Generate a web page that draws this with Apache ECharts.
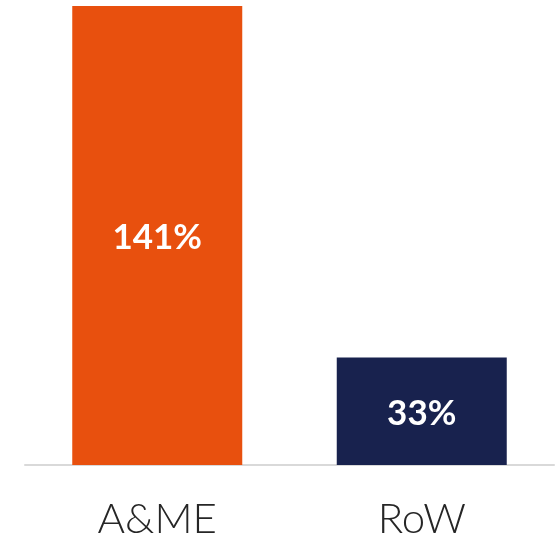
<!DOCTYPE html>
<html>
<head>
<meta charset="utf-8">
<script src="https://cdn.jsdelivr.net/npm/echarts@6/dist/echarts.min.js"></script>
<style>
  html, body { margin: 0; padding: 0; background: #ffffff; }
  #chart { width: 559px; height: 541px; }
</style>
</head>
<body>
<div id="chart"></div>
<script>
// Regions and their growth (%)
const categories = ['A&ME', 'RoW'];
const growthValues = [141, 33];
const barColors = ['#E8500E', '#18224E'];

const chart = echarts.init(document.getElementById('chart'), null, { renderer: 'canvas' });

chart.setOption({
  animation: false,
  grid: { left: 25, right: 5, top: 6, bottom: 76 },
  xAxis: {
    type: 'category',
    data: categories,
    axisLine: { show: true, lineStyle: { color: '#d9d9d9', width: 2 } },
    axisTick: { show: false },
    axisLabel: {
      color: '#262626',
      fontFamily: 'Lato, "DejaVu Sans", sans-serif',
      fontWeight: 300,
      fontSize: 42,
      margin: 33
    }
  },
  yAxis: {
    type: 'value',
    min: 0,
    max: 141,
    show: false,
    splitLine: { show: false }
  },
  series: [{
    type: 'bar',
    barWidth: 170,
    data: growthValues.map((v, i) => ({ value: v, itemStyle: { color: barColors[i] } })),
    label: {
      show: true,
      position: 'inside',
      color: '#ffffff',
      fontFamily: 'Lato, "DejaVu Sans", sans-serif',
      fontWeight: 'bold',
      fontSize: 35,
      offset: [0, 2],
      formatter: p => p.value + '%'
    }
  }]
});
</script>
</body>
</html>
